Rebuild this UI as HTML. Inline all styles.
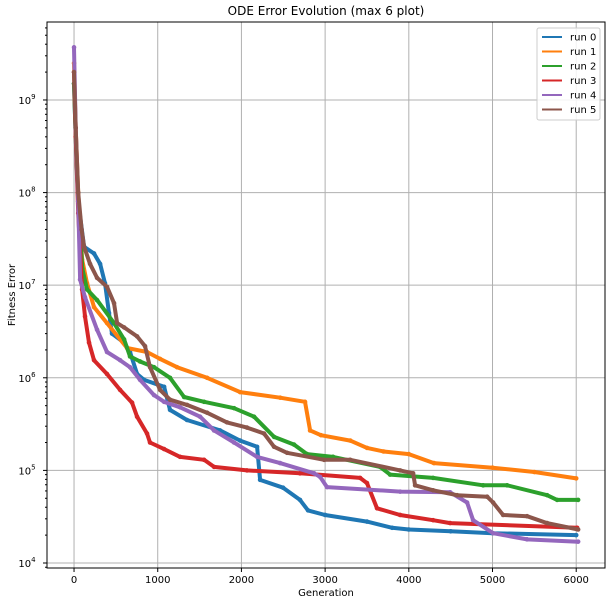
<!DOCTYPE html>
<html><head><meta charset="utf-8"><style>
body{margin:0;background:#fff;font-family:"Liberation Sans",sans-serif;}
svg text{font-family:"DejaVu Sans","Liberation Sans",sans-serif;}
</style></head><body>
<svg id="chart" width="615" height="604" xmlns="http://www.w3.org/2000/svg"></svg>
<script>
const runNames = ["run 0","run 1","run 2","run 3","run 4","run 5"];
const colors = ["#1f77b4","#ff7f0e","#2ca02c","#d62728","#9467bd","#8c564b"];
const xTicks = [0,1000,2000,3000,4000,5000,6000];
const yTickExps = [4,5,6,7,8,9];
const gen0 = [0,20,50,120,239,311,370,418,454,598,669,753,837,1076,1147,1350,1745,1984,2187,2223,2498,2700,2796,3000,3500,3800,4000,4500,5000,6000];
const run0 = [1.5e9,4e8,8e7,2.6e7,2.2e7,1.7e7,1.05e7,5.0e6,3.0e6,2.4e6,1.9e6,1.1e6,9.5e5,8.0e5,4.5e5,3.5e5,2.7e5,2.1e5,1.8e5,7.9e4,6.5e4,4.8e4,3.7e4,3.3e4,2.8e4,2.4e4,2.3e4,2.2e4,2.1e4,2.0e4];
const gen1 = [0,20,50,96,155,239,394,633,872,1028,1231,1589,1984,2462,2760,2820,2950,3300,3500,3700,4000,4300,5000,5500,6000];
const run1 = [2.5e9,5e8,1e8,1.9e7,1.05e7,5.8e6,3.9e6,2.1e6,1.9e6,1.6e6,1.3e6,1.0e6,7.0e5,6.1e5,5.5e5,2.7e5,2.4e5,2.1e5,1.75e5,1.6e5,1.5e5,1.2e5,1.07e5,9.6e4,8.2e4];
const gen2 = [0,20,50,100,155,275,478,598,669,789,956,1147,1315,1554,1912,2151,2390,2629,2784,3095,3657,3776,4290,4888,5175,5652,5772,6023];
const run2 = [1.5e9,4e8,8e7,1.5e7,9e6,6.9e6,3.9e6,2.6e6,1.7e6,1.5e6,1.3e6,1.0e6,6.2e5,5.5e5,4.7e5,3.8e5,2.3e5,1.9e5,1.5e5,1.4e5,1.09e5,9e4,8.3e4,6.9e4,6.9e4,5.4e4,4.8e4,4.8e4];
const gen3 = [0,20,50,96,131,179,239,394,550,693,753,872,908,1076,1267,1554,1673,2067,2700,3418,3500,3620,3896,4290,4493,6011];
const run3 = [2e9,4e8,6e7,9e6,4.6e6,2.4e6,1.55e6,1.1e6,7.4e5,5.4e5,3.8e5,2.5e5,2.0e5,1.7e5,1.4e5,1.3e5,1.09e5,1.0e5,9.3e4,8.3e4,7.3e4,3.9e4,3.3e4,2.9e4,2.7e4,2.4e4];
const gen4 = [0,20,50,72,131,275,394,550,669,789,956,1076,1267,1506,1673,1912,2187,2462,2868,2940,3023,3896,4493,4696,4768,5007,5413,6023];
const run4 = [3.7e9,5e8,8e7,1.15e7,7.4e6,3.3e6,1.9e6,1.55e6,1.3e6,9.5e5,6.5e5,5.5e5,4.8e5,3.8e5,2.7e5,2.0e5,1.4e5,1.2e5,9.3e4,8.5e4,6.6e4,5.9e4,5.8e4,4.5e4,2.9e4,2.1e4,1.8e4,1.7e4];
const gen5 = [0,20,50,90,120,191,275,394,478,514,598,753,848,908,1028,1147,1350,1589,1828,2067,2270,2390,2545,2988,3300,3896,4051,4075,4290,4577,4936,5007,5127,5413,5652,6023];
const run5 = [2e9,5e8,1e8,4e7,2.6e7,1.7e7,1.2e7,9.6e6,6.4e6,3.9e6,3.5e6,2.8e6,2.2e6,1.3e6,7.4e5,5.8e5,5.1e5,4.2e5,3.3e5,2.9e5,2.5e5,1.8e5,1.55e5,1.3e5,1.3e5,1.0e5,9.3e4,6.9e4,6.1e4,5.4e4,5.2e4,4.5e4,3.3e4,3.2e4,2.7e4,2.3e4];
const gens = [gen0,gen1,gen2,gen3,gen4,gen5];
const runs = [run0,run1,run2,run3,run4,run5];

const NS="http://www.w3.org/2000/svg";
const svg=document.getElementById('chart');
const L=47,R=605,T=22,B=568;
const xMin=-323,xMax=6344, lMin=3.946,lMax=9.842;
function X(v){return L+(v-xMin)/(xMax-xMin)*(R-L);}
function Y(v){return T+(lMax-Math.log10(v))/(lMax-lMin)*(B-T);}
function mk(tag,attrs,parent){const e=document.createElementNS(NS,tag);for(const k in attrs)e.setAttribute(k,attrs[k]);(parent||svg).appendChild(e);return e;}

const grid=mk('g',{});


xTicks.forEach(t=>{mk('line',{x1:X(t),x2:X(t),y1:T,y2:B,stroke:'#b0b0b0','stroke-width':1},grid);});
yTickExps.forEach(e=>{mk('line',{x1:L,x2:R,y1:Y(Math.pow(10,e)),y2:Y(Math.pow(10,e)),stroke:'#b0b0b0','stroke-width':1},grid);});

const plot=mk('g',{});


runs.forEach((vals,i)=>{
  const g=mk('g',{},plot);
  
  
  const pts=vals.map((v,j)=>X(gens[i][j]).toFixed(1)+','+Y(v).toFixed(1)).join(' ');
  const pl=mk('polyline',{points:pts,fill:'none',stroke:colors[i],'stroke-width':4,'stroke-linejoin':'round','stroke-linecap':'round'},g);
  
  
  vals.forEach((v,j)=>{const c=mk('circle',{cx:X(gens[i][j]),cy:Y(v),r:2.3,fill:colors[i]},g);
    
    });
});

const fr=mk('rect',{x:L,y:T,width:R-L,height:B-T,fill:'none',stroke:'#000','stroke-width':1});



const xa=mk('g',{});


xTicks.forEach(t=>{mk('line',{x1:X(t),x2:X(t),y1:B,y2:B+4,stroke:'#000'},xa);
  const tx=mk('text',{x:X(t),y:B+15,'font-size':10,'text-anchor':'middle',fill:'#000'},xa);tx.textContent=t;
  
  });
const ya=mk('g',{});


for(let e=3;e<=9;e++){for(let m=1;m<10;m++){const v=m*Math.pow(10,e);const y=Y(v);if(y<T||y>B)continue;
  mk('line',{x1:L-(m==1?4:2),x2:L,y1:y,y2:y,stroke:'#000'},ya);}}
yTickExps.forEach(e=>{const y=Y(Math.pow(10,e));
  const tx=mk('text',{x:L-20,y:y+4,'font-size':10,'text-anchor':'middle',fill:'#000'},ya);
  tx.textContent='10';const s=mk('tspan',{dy:-5,'font-size':7},tx);s.textContent=e;
  
  });

const title=mk('text',{x:(L+R)/2,y:15,'font-size':12,'text-anchor':'middle',fill:'#000'});title.textContent='ODE Error Evolution (max 6 plot)';


const xl=mk('text',{x:(L+R)/2,y:596,'font-size':10,'text-anchor':'middle',fill:'#000'});xl.textContent='Generation';


const yl=mk('text',{x:0,y:0,'font-size':10,'text-anchor':'middle',fill:'#000',transform:'translate(15,'+((T+B)/2)+') rotate(-90)'});yl.textContent='Fitness Error';



const lg=mk('g',{});


mk('rect',{x:537,y:28,width:63,height:92,rx:2,fill:'#fff','fill-opacity':0.85,stroke:'#ccc'},lg);
runNames.forEach((n,i)=>{const y=37+i*14.5;
  const e=mk('g',{},lg);
  
  
  mk('line',{x1:542,x2:562,y1:y,y2:y,stroke:colors[i],'stroke-width':2},e);
  const t=mk('text',{x:570,y:y+3.5,'font-size':10,fill:'#000'},e);t.textContent=n;});
</script>
</body></html>
